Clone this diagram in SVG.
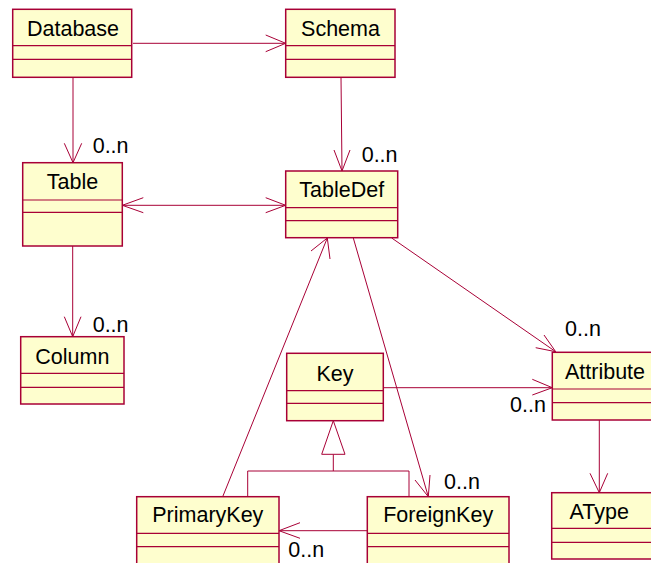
<svg xmlns="http://www.w3.org/2000/svg" width="651" height="563" viewBox="0 0 651 563">
<style>
.box{fill:#FEFECE;stroke:#A80036;stroke-width:1.5}
.sep{stroke:#A80036;stroke-width:1.2}
.name{font-family:"Liberation Sans",Arial,sans-serif;font-size:21.5px;fill:#000;text-anchor:middle}
.mult{font-family:"Liberation Sans",Arial,sans-serif;font-size:21.5px;fill:#000}
.ln{stroke:#A80036;stroke-width:1;fill:none}
.tri{stroke:#A80036;stroke-width:1;fill:#FFFFFF}
</style>
<rect width="651" height="563" fill="#FFFFFF"/>
<g id="Database">
<rect class="box" x="12.7" y="9.3" width="119" height="68"/>
<line class="sep" x1="12.7" y1="45.7" x2="131.7" y2="45.7"/>
<line class="sep" x1="12.7" y1="59.3" x2="131.7" y2="59.3"/>
<text class="name" x="73" y="36">Database</text>
</g>
<g id="Schema">
<rect class="box" x="285.7" y="9.3" width="109.3" height="68"/>
<line class="sep" x1="285.7" y1="45.7" x2="395" y2="45.7"/>
<line class="sep" x1="285.7" y1="59.3" x2="395" y2="59.3"/>
<text class="name" x="340.5" y="36">Schema</text>
</g>
<g id="Table">
<rect class="box" x="22.7" y="162.7" width="99.6" height="83.3"/>
<line class="sep" x1="22.7" y1="200" x2="122.3" y2="200"/>
<line class="sep" x1="22.7" y1="212.3" x2="122.3" y2="212.3"/>
<text class="name" x="72.5" y="189">Table</text>
</g>
<g id="TableDef">
<rect class="box" x="285.7" y="171" width="112" height="66.7"/>
<line class="sep" x1="285.7" y1="207.7" x2="397.7" y2="207.7"/>
<line class="sep" x1="285.7" y1="220.7" x2="397.7" y2="220.7"/>
<text class="name" x="341.7" y="197">TableDef</text>
</g>
<g id="Column">
<rect class="box" x="20.7" y="336.7" width="103.3" height="67.3"/>
<line class="sep" x1="20.7" y1="373.3" x2="124" y2="373.3"/>
<line class="sep" x1="20.7" y1="387.3" x2="124" y2="387.3"/>
<text class="name" x="72.4" y="364">Column</text>
</g>
<g id="Key">
<rect class="box" x="286.7" y="353.3" width="96.6" height="67.4"/>
<line class="sep" x1="286.7" y1="390.7" x2="383.3" y2="390.7"/>
<line class="sep" x1="286.7" y1="403.3" x2="383.3" y2="403.3"/>
<text class="name" x="335" y="380.5">Key</text>
</g>
<g id="Attribute">
<rect class="box" x="552.3" y="352.3" width="106" height="67.7"/>
<line class="sep" x1="552.3" y1="389" x2="658.3" y2="389"/>
<line class="sep" x1="552.3" y1="402.7" x2="658.3" y2="402.7"/>
<text class="name" x="605" y="379">Attribute</text>
</g>
<g id="AType">
<rect class="box" x="551.7" y="492.7" width="104" height="66.3"/>
<line class="sep" x1="551.7" y1="528.3" x2="655.7" y2="528.3"/>
<line class="sep" x1="551.7" y1="542.3" x2="655.7" y2="542.3"/>
<text class="name" x="599.3" y="519">AType</text>
</g>
<g id="PrimaryKey">
<rect class="box" x="136.7" y="496.7" width="142.3" height="75"/>
<line class="sep" x1="136.7" y1="533.3" x2="279" y2="533.3"/>
<line class="sep" x1="136.7" y1="546.7" x2="279" y2="546.7"/>
<text class="name" x="207.8" y="521.7">PrimaryKey</text>
</g>
<g id="ForeignKey">
<rect class="box" x="367.3" y="496.7" width="141.7" height="75"/>
<line class="sep" x1="367.3" y1="533.3" x2="509" y2="533.3"/>
<line class="sep" x1="367.3" y1="546.7" x2="509" y2="546.7"/>
<text class="name" x="438.2" y="521.7">ForeignKey</text>
</g>
<g id="connectors">
<line class="ln" x1="133" y1="43.3" x2="285.7" y2="43.3"/>
<polyline class="ln" points="265.7,35 285.7,43.3 265.7,51.7"/>
<line class="ln" x1="73" y1="77.3" x2="73" y2="162.7"/>
<polyline class="ln" points="64.3,143.3 73,162.7 81.7,143.3"/>
<text class="mult" x="92.7" y="153">0..n</text>
<line class="ln" x1="341" y1="77.3" x2="342" y2="171"/>
<polyline class="ln" points="334,150 342,171 350,150"/>
<text class="mult" x="361.7" y="162">0..n</text>
<line class="ln" x1="122.3" y1="205.3" x2="285.7" y2="205.3"/>
<polyline class="ln" points="143.3,197.7 122.3,205.3 143.3,212.7"/>
<polyline class="ln" points="265.7,197.7 285.7,205.3 265.7,212.7"/>
<line class="ln" x1="72.7" y1="246" x2="72.7" y2="336.7"/>
<polyline class="ln" points="64.3,316.7 72.7,336.7 81,316.7"/>
<text class="mult" x="92.7" y="332">0..n</text>
<line class="ln" x1="391.7" y1="238" x2="555.7" y2="351.7"/>
<polyline class="ln" points="544,335 555.7,351.7 535.7,347.7"/>
<text class="mult" x="565" y="336">0..n</text>
<line class="ln" x1="383.3" y1="387.7" x2="552.3" y2="387.7"/>
<polyline class="ln" points="532.3,379.3 552.3,387.7 532.3,395"/>
<text class="mult" x="510" y="411.7">0..n</text>
<line class="ln" x1="599.3" y1="420" x2="599.3" y2="492.7"/>
<polyline class="ln" points="590,473.3 599.3,492.7 607.7,473.3"/>
<line class="ln" x1="353.3" y1="238" x2="428.3" y2="496.7"/>
<polyline class="ln" points="415,480 428.3,496.7 430,475"/>
<text class="mult" x="444" y="488.5">0..n</text>
<line class="ln" x1="222.7" y1="496.7" x2="327.3" y2="238"/>
<polyline class="ln" points="311,251 327.3,238 330,259"/>
<line class="ln" x1="333.3" y1="454.3" x2="333.3" y2="471"/>
<polyline class="ln" points="247.7,496.7 247.7,471 409,471 409,496.7"/>
<polygon class="tri" points="333.3,420.7 321.7,454.3 345,454.3"/>
<line class="ln" x1="367.3" y1="530.7" x2="279" y2="530.7"/>
<polyline class="ln" points="300,522.7 279,530.7 300,538.3"/>
<text class="mult" x="288.3" y="556.7">0..n</text>
</g>
</svg>
